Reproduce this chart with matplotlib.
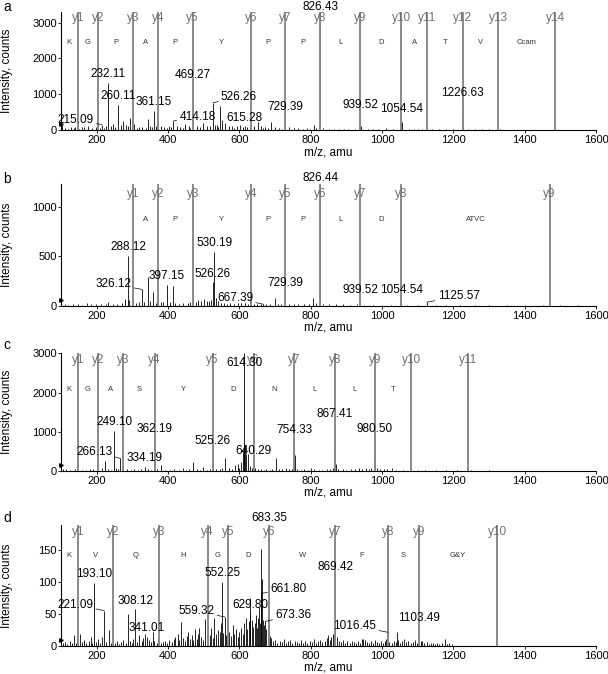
import numpy as np
import matplotlib
matplotlib.use('Agg')
import matplotlib.pyplot as plt
import matplotlib.transforms as mtransforms

plt.rcParams['font.family'] = ['Liberation Sans', 'DejaVu Sans']

# data
# ----
# panel a
a_ions = [147.11, 204.13, 301.19, 372.22, 469.27, 632.34, 729.39, 826.43,
          939.52, 1054.54, 1125.58, 1226.63, 1325.70, 1485.73]
a_res = ['K', 'G', 'P', 'A', 'P', 'Y', 'P', 'P', 'L', 'D', 'A', 'T', 'V', 'Ccam']
a_mz = [103, 110, 121, 128, 136, 140, 150, 158, 165, 175, 186, 197, 208, 215.09, 221,
        226, 232.11, 240, 246, 252, 260.11, 268, 275, 282, 288, 294, 305, 312, 318,
        328, 337, 344, 350, 355, 361.15, 366, 380, 390, 396, 402, 408, 414.18, 425,
        435, 441, 447, 458, 463, 469.27, 480, 490, 499, 510, 518, 526.26, 531, 536,
        541, 547, 552, 560, 570, 580, 586, 593, 603, 609, 615.28, 622, 630, 640, 651,
        660, 666, 672, 680, 689, 700, 712, 720, 729.39, 740, 752, 765, 778, 790, 799,
        808, 815, 826.43, 827.4, 834, 850, 866, 880, 893, 905, 925, 939.52, 940.5,
        960, 975, 990, 1010, 1030, 1054.54, 1055.5, 1075, 1090, 1100, 1112, 1126.5,
        1140, 1160, 1180, 1200, 1226.63, 1227.6, 1240, 1260, 1280, 1300, 1330]
a_int = [130, 50, 40, 80, 60, 90, 40, 70, 90, 120, 60, 70, 50, 150, 60,
         100, 1320, 120, 180, 90, 710, 130, 250, 150, 120, 330, 180, 60, 80,
         90, 60, 320, 100, 70, 540, 120, 110, 80, 60, 120, 70, 250, 100,
         90, 60, 180, 120, 60, 1285, 100, 90, 190, 120, 100, 760, 130, 140,
         90, 670, 280, 190, 120, 100, 60, 110, 130, 70, 100, 80, 60, 110, 230,
         120, 60, 90, 50, 230, 80, 60, 40, 400, 70, 60, 50, 40, 60, 40,
         140, 60, 4200, 560, 60, 40, 30, 40, 30, 30, 40, 447, 110,
         30, 30, 30, 50, 40, 335, 230, 30, 25, 40, 25, 60,
         25, 30, 25, 30, 800, 560, 30, 20, 20, 15, 20]
a_labels = [215.09, 232.11, 260.11, 361.15, 414.18, 469.27, 526.26, 615.28,
            729.39, 939.52, 1054.54, 1226.63]
a_top = 826.43

# panel b
b_ions = [301.19, 372.22, 469.27, 632.34, 729.39, 826.44, 939.52, 1054.54, 1470.0]
b_res = ['', 'A', 'P', 'Y', 'P', 'P', 'L', 'D', 'ATVC']
b_mz = [110, 120, 135, 148, 160, 172, 185, 198, 212, 226, 232, 245, 258, 270, 280,
        288.12, 292, 301.19, 310, 318, 326.12, 332, 344.6, 350, 358.6, 365, 372.22,
        380, 387, 397.15, 405, 414, 420, 430, 442, 455, 462, 469.27, 478, 485, 492,
        500, 508, 515, 520, 526.26, 530.19, 534, 540, 548, 556, 565, 575, 585, 595,
        605, 615, 625, 632.34, 640, 650, 660, 667.39, 675, 685, 699, 708, 718,
        729.39, 740, 752, 765, 780, 795, 807, 815, 826.44, 827.5, 835, 850, 870,
        890, 910, 930, 939.52, 950, 975, 1000, 1025, 1054.54, 1070, 1100, 1125.57,
        1150, 1180, 1220, 1260, 1300, 1350, 1400, 1450, 1500, 1550]
b_int = [15, 10, 20, 15, 10, 30, 15, 20, 15, 20, 35, 15, 20, 30, 70,
         506, 60, 80, 30, 40, 165, 40, 290, 50, 143, 30, 100,
         40, 35, 209, 40, 200, 30, 20, 30, 25, 40, 120, 40, 60, 50,
         70, 50, 45, 60, 236, 546, 80, 50, 30, 25, 20, 30, 20, 25,
         30, 25, 20, 60, 20, 15, 15, 15, 15, 20, 75, 20, 15,
         145, 20, 15, 15, 15, 20, 75, 25, 1500, 185, 20, 15, 15,
         15, 10, 15, 75, 10, 10, 10, 10, 75, 10, 10, 35,
         8, 8, 6, 6, 5, 5, 5, 5, 5, 5]
b_labels = [288.12, 326.12, 397.15, 526.26, 530.19, 667.39, 729.39, 939.52,
            1054.54, 1125.57]
b_top = 826.44

# panel c
c_ions = [147.11, 204.13, 275.17, 362.20, 525.26, 640.29, 754.33, 867.41,
          980.50, 1081.55, 1241.58]
c_res = ['K', 'G', 'A', 'S', 'Y', 'D', 'N', 'L', 'L', 'T', '']
c_mz = [105, 115, 125, 138, 147.11, 158, 170, 180, 190, 205, 214, 223, 232, 240,
        249.10, 255, 261, 266.13, 275.17, 285, 295, 305, 315, 324, 334.19, 345, 352,
        362.19, 370, 380, 392, 405, 418, 430, 441, 450, 460, 469, 480, 490, 497, 510,
        517, 525.26, 535, 545, 552, 560, 570, 580, 588, 595, 600, 605, 609, 612,
        614.30, 617, 620, 625, 630, 635, 640.29, 645, 652, 660, 668, 676, 685, 692,
        704, 712, 720, 730, 740, 748, 754.33, 755.5, 762, 772, 782, 793, 800, 810,
        822, 833, 845, 855, 862, 867.41, 868.5, 872, 878, 890, 900, 912, 925, 935,
        945, 955, 963, 970, 980.50, 981.5, 986, 995, 1005, 1015, 1027, 1040, 1060,
        1080, 1100, 1120, 1150, 1180, 1210, 1250, 1300]
c_int = [50, 40, 30, 40, 60, 30, 25, 40, 35, 30, 60, 248, 40, 30,
         1010, 60, 50, 316, 120, 40, 30, 40, 30, 50, 105, 40, 30,
         830, 50, 145, 30, 25, 40, 30, 80, 30, 40, 230, 40, 30, 100, 30,
         40, 540, 40, 50, 60, 333, 60, 50, 145, 180, 60, 230, 520, 700,
         3500, 650, 440, 440, 120, 80, 285, 60, 50, 40, 30, 40, 30, 40,
         316, 40, 50, 60, 40, 50, 823, 400, 50, 30, 40, 30, 60, 40,
         30, 30, 40, 40, 60, 1215, 615, 180, 50, 40, 30, 40, 50, 80,
         40, 60, 40, 60, 835, 460, 80, 40, 50, 40, 60, 30, 20,
         30, 30, 20, 15, 15, 10, 10, 10]
c_labels = [249.10, 266.13, 334.19, 362.19, 525.26, 640.29, 754.33, 867.41, 980.50]
c_top = 614.30

# panel d
d_ions = [147.11, 246.18, 374.24, 511.30, 568.32, 683.35, 869.42, 1016.49,
          1103.52, 1323.60]
d_res = ['K', 'V', 'Q', 'H', 'G', 'D', 'W', 'F', 'S', 'G&Y']
d_mz = [105, 112, 118, 124, 131, 137, 142, 147.11, 153, 158, 165, 171, 178, 184, 188,
        193.10, 199, 205, 210, 216, 221.09, 227, 234, 240, 246, 251, 257, 263, 269,
        275, 281, 288.6, 293, 299, 303, 308.12, 314, 320, 326, 331, 336, 341.01, 346,
        352, 357, 362, 368, 374, 380, 386, 392, 398, 404, 410, 416, 421, 427, 432,
        436, 441, 447, 452, 456, 461, 466, 470, 475, 480, 485, 487, 492, 497, 503.8,
        508, 513, 518, 520.6, 525, 530, 535, 540, 545, 548, 552.25, 555, 559.32, 563,
        566, 572, 576, 581, 585, 590, 595, 600, 605, 609, 613, 618, 622, 626, 629.80,
        630.5, 635, 639, 643, 646, 650, 653, 656, 658, 660.3, 661.80, 662.8, 666, 669,
        673.36, 676, 680, 683.35, 686, 690, 695, 701, 707, 713, 719, 725, 731, 737,
        743, 749, 755, 761, 767, 773, 779, 785, 791, 797, 803, 809, 815, 821, 827,
        833, 839, 845, 849, 853, 858, 863, 866, 869.42, 874, 879, 885, 891, 897, 903,
        909, 915, 921, 927, 933, 939, 945, 948, 953, 958, 964, 969, 975, 980, 986,
        991, 996, 1002, 1008, 1012, 1016.45, 1021, 1027, 1033, 1038, 1042, 1046,
        1051, 1056, 1062, 1068, 1074, 1080, 1086, 1092, 1098, 1103.49, 1108, 1113,
        1119, 1125, 1131, 1137, 1143, 1149, 1155, 1161, 1167, 1176, 1182, 1188, 1195]
d_int = [4, 6, 3, 8, 5, 16, 4, 12, 18, 6, 9, 4, 7, 14, 5,
         98, 6, 10, 4, 13, 55, 6, 24, 5, 8, 4, 7, 3, 6,
         9, 4, 50, 8, 5, 11, 57, 6, 17, 8, 12, 19, 14, 9,
         6, 22, 7, 5, 10, 4, 6, 8, 5, 9, 6, 11, 14, 18, 9,
         37, 12, 8, 15, 22, 10, 16, 9, 26, 11, 19, 27, 13, 9, 42,
         14, 20, 16, 28, 12, 44, 18, 25, 21, 36, 100, 20, 45, 17,
         30, 22, 15, 32, 19, 26, 14, 22, 28, 18, 35, 44, 26, 38, 50,
         75, 40, 30, 36, 48, 28, 44, 61, 35, 151, 82, 105, 40, 32,
         38, 26, 20, 250, 15, 12, 7, 9, 5, 8, 6, 10, 5, 7,
         9, 4, 8, 6, 5, 9, 4, 7, 5, 8, 6, 10, 5, 7, 9,
         6, 8, 12, 17, 9, 14, 19, 11, 110, 13, 8, 6, 9, 5, 7,
         4, 8, 6, 5, 7, 4, 10, 11, 9, 6, 5, 8, 4, 9, 6,
         4, 8, 5, 7, 10, 21, 6, 5, 8, 6, 21, 9,
         5, 7, 10, 6, 8, 5, 6, 9, 5, 29, 7, 8,
         4, 6, 3, 5, 4, 3, 5, 3, 4, 11, 3, 4, 2]
d_labels = [193.10, 221.09, 308.12, 341.01, 552.25, 559.32, 629.80, 661.80,
            673.36, 869.42, 1016.45, 1103.49]
d_top = 683.35

# layout / style
# --------------
# labels that sit off to one side with a leader line: offsets in points
a_lead = {215.09: (-19, 3.3), 414.18: (17.6, 2.9), 526.26: (18.7, 4.4)}
b_lead = {326.12: (-20.4, 3.9), 667.39: (-20.4, 4.2), 1125.57: (23, 4.3)}
c_lead = {266.13: (-18.7, 4.8)}
d_lead = {221.09: (-21, 4), 559.32: (-20.4, 4.2), 661.80: (19.3, 2.8),
          673.36: (20, 4.6), 1016.45: (-23.9, 4.7)}

ion_col = '#8a8a8a'
L, W = 61/608, 535/608


def draw_panel(rect, ymax, yticks, ions, res, mz, inten, labels, lead, top_mz,
               top_frac, ion_frac, res_frac, letter, letter_y):
    ax = fig.add_axes(rect)
    ax.set_xlim(100, 1600)
    ax.set_ylim(0, ymax)
    for s in ['top', 'right']:
        ax.spines[s].set_visible(False)
    for s in ['left', 'bottom']:
        ax.spines[s].set_linewidth(0.8)
    ax.set_xticks(range(200, 1601, 200))
    ax.set_yticks(yticks)
    ax.tick_params(axis='both', labelsize=8, length=2, width=0.6)
    ax.tick_params(axis='x', pad=1.5)
    ax.tick_params(axis='y', pad=1)

    mz = np.array(mz)
    inten = np.array(inten, dtype=float)
    ax.vlines(mz, 0, np.minimum(inten, ymax), color='black', lw=0.6, zorder=2)

    # y-ion marker lines and sequence letters
    trans = mtransforms.blended_transform_factory(ax.transData, ax.transAxes)
    for i, x in enumerate(ions):
        ax.axvline(x, color=ion_col, lw=1.4, zorder=3)
        ax.text(x, ion_frac, 'y%d' % (i+1), transform=trans, ha='center', va='center',
                fontsize=8.5, color='#707070', zorder=4)
    bounds = [100] + list(ions)
    for i, r in enumerate(res):
        if r:
            ax.text((bounds[i]+bounds[i+1])/2, res_frac, r, transform=trans,
                    ha='center', va='center', fontsize=5.5, color='#333333')

    # peak labels
    for lab in labels:
        h = min(inten[np.argmin(abs(mz-lab))], ymax)
        if lab in lead:
            ax.annotate('%.2f' % lab, xy=(lab, h), xytext=lead[lab],
                        textcoords='offset points', ha='center', va='center',
                        fontsize=8.5, zorder=5,
                        arrowprops=dict(arrowstyle='-', lw=0.5, color='black',
                                        shrinkA=0, shrinkB=0))
        else:
            ax.annotate('%.2f' % lab, xy=(lab, h), xytext=(0, 2),
                        textcoords='offset points', ha='center', va='bottom',
                        fontsize=8.5, zorder=5)
    ax.text(top_mz, top_frac, '%.2f' % top_mz, transform=trans, ha='center',
            va='center', fontsize=8.5, clip_on=False, zorder=5)

    # threshold marker on the left axis
    ax.plot([100], [0.05], marker='>', ms=2.5, color='black', transform=trans,
            clip_on=False, zorder=5)

    ax.annotate('m/z, amu', xy=(0.5, 0), xycoords='axes fraction', xytext=(0, -16),
                textcoords='offset points', ha='center', va='center', fontsize=8.5)
    fig.text(7/608, rect[1]+rect[3]/2, 'Intensity, counts', rotation=90,
             ha='center', va='center', fontsize=8.5)
    fig.text(3/608, 1-letter_y/674, letter, ha='left', va='center', fontsize=10)
    return ax


fig = plt.figure(figsize=(6.08, 6.74), dpi=100)

draw_panel([L, 544/674, W, 118/674], 3300, [0, 1000, 2000, 3000], a_ions, a_res,
           a_mz, a_int, a_labels, a_lead, a_top, 1.045, 0.945, 0.74, 'a', 7)
draw_panel([L, 368.3/674, W, 121.7/674], 1230, [0, 500, 1000], b_ions, b_res,
           b_mz, b_int, b_labels, b_lead, b_top, 1.047, 0.92, 0.71, 'b', 179)
draw_panel([L, 203.3/674, W, 118/674], 3020, [0, 1000, 2000, 3000], c_ions, c_res,
           c_mz, c_int, c_labels, c_lead, c_top, 0.91, 0.94, 0.684, 'c', 345)
draw_panel([L, 28.3/674, W, 120.7/674], 189, [0, 50, 100, 150], d_ions, d_res,
           d_mz, d_int, d_labels, d_lead, d_top, 1.055, 0.94, 0.75, 'd', 518)

fig.savefig('out.png', dpi=100)
